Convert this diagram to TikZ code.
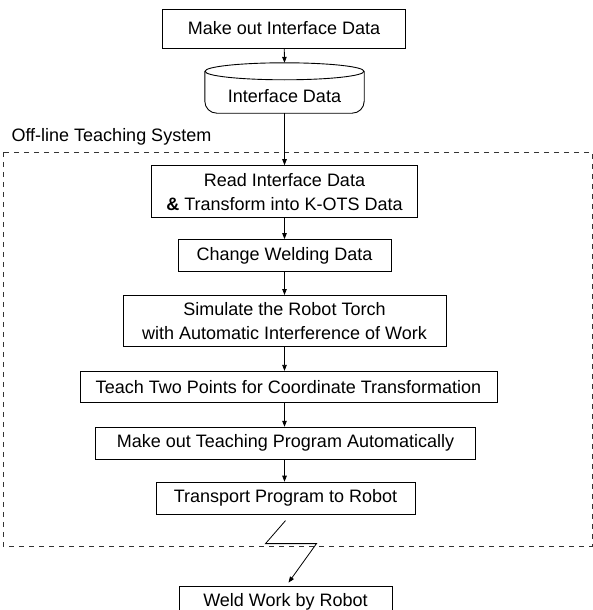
\documentclass[tikz,border=0pt]{standalone}
\usepackage{fontspec}
\setmainfont{Liberation Sans}
\usetikzlibrary{arrows.meta,positioning}

\begin{document}
\begin{tikzpicture}[
  x=1pt, y=-1pt,
  box/.style={draw,line width=0.9pt,align=center,inner sep=0pt,minimum height=32pt,font=\fontsize{18}{24}\selectfont},
  store/.style={align=center,inner sep=0pt,minimum height=33pt,font=\fontsize{18}{24}\selectfont},
  arr/.style={-{Triangle[length=6pt,width=4.5pt]},line width=0.8pt},
  frame/.style={dash pattern=on 5pt off 5pt,line width=0.8pt,black!80},
  note/.style={font=\fontsize{18}{24}\selectfont}
]
\useasboundingbox (0,0) rectangle (593,610);

% data preparation
\node[box,minimum width=243pt,minimum height=39pt] (mkdata) at (284,28.5) {Make out Interface Data};
\node[store,minimum width=159pt] (idata) at (284.5,96.5) {Interface Data};
\draw[line width=0.9pt,rounded corners=12pt] ([yshift=8.5pt]idata.north west) -- (idata.south west)
  -- (idata.south east) -- ([yshift=8.5pt]idata.north east);
\draw[line width=0.9pt] ([yshift=8.5pt]idata.north) ellipse [x radius=79.5pt, y radius=8.5pt];

% off-line teaching system
\draw[frame] (3,152) rectangle (592,546);
\node[note,anchor=base west] (ots) at (8,141) {Off-line Teaching System};

\node[box,minimum width=266pt,minimum height=52pt,below=52pt of idata] (read) {Read Interface Data\\\textbf{\&} Transform into K-OTS Data};
\node[box,minimum width=213pt,below=21pt of read] (chg) {Change Welding Data};
\node[box,minimum width=323pt,minimum height=51pt,below=23pt of chg] (sim) {Simulate the Robot Torch\\with Automatic Interference of Work};
\node[box,minimum width=417pt,minimum height=31pt,below=24pt of sim,xshift=4pt] (teach) {Teach Two Points for Coordinate Transformation};
\node[box,minimum width=380pt,below=24pt of teach,xshift=-3pt] (prog) {Make out Teaching Program Automatically};
\node[box,minimum width=259pt,below=22pt of prog] (trans) {Transport Program to Robot};
\node[box,minimum width=213pt,below=71pt of trans] (weld) {Weld Work by Robot};

\draw[arr] (mkdata) -- ([yshift=17pt]idata.north);
\draw[arr] (idata.south) -- (idata.south |- read.north);
\draw[arr] (read) -- (chg);
\draw[arr] (chg) -- (chg.south |- sim.north);
\draw[arr] (sim) -- (sim.south |- teach.north);
\draw[arr] (sim.south |- teach.south) -- (sim.south |- prog.north);
\draw[arr] (sim.south |- prog.south) -- (sim.south |- trans.north);
% transfer to the robot
\draw[arr] ([yshift=-6pt]trans.south) -- ++(-20pt,-23pt) -- ++(51pt,0pt) -- ([xshift=3pt,yshift=3pt]weld.north);
\end{tikzpicture}
\end{document}
